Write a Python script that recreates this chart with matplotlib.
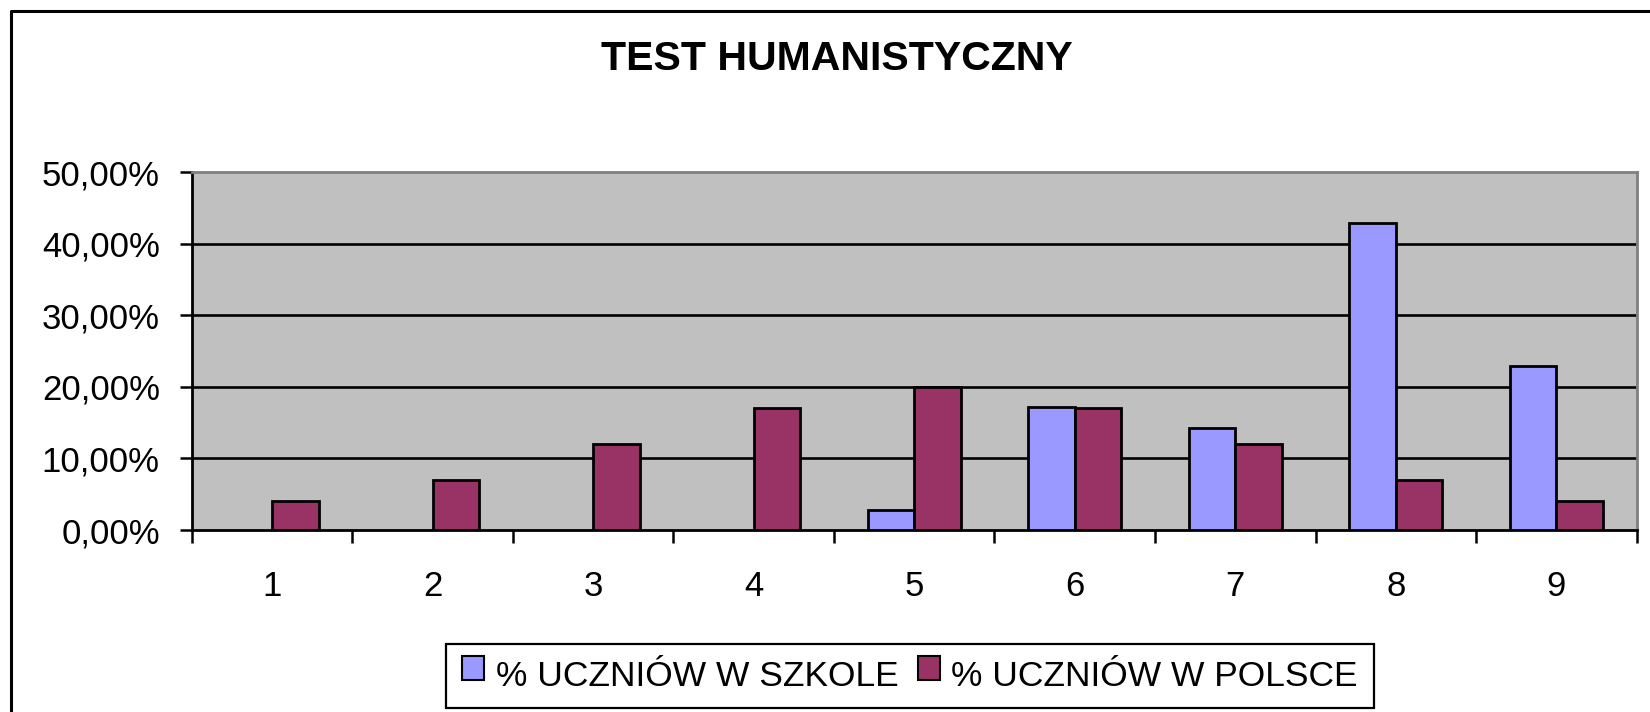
import numpy as np
import matplotlib.pyplot as plt
from matplotlib.lines import Line2D
from matplotlib.ticker import FuncFormatter

# data (fractions)
categories = ['1', '2', '3', '4', '5', '6', '7', '8', '9']
szkola = [0.0, 0.0, 0.0, 0.0, 0.0286, 0.1714, 0.1429, 0.4286, 0.2286]
polska = [0.04, 0.07, 0.12, 0.17, 0.20, 0.17, 0.12, 0.07, 0.04]
series_names = ['% UCZNIÓW W SZKOLE', '% UCZNIÓW W POLSCE']
title = 'TEST HUMANISTYCZNY'

plt.rcParams['font.family'] = ['Liberation Sans', 'DejaVu Sans']

W, H = 1650, 712
fig = plt.figure(figsize=(W / 100, H / 100), dpi=100)
ax = fig.add_axes([191.7 / W, 1 - 530 / H, (1636.7 - 191.7) / W, 358 / H])
ax.set_facecolor('#C0C0C0')

x = np.arange(len(categories))
bw = 0.29
# no outline on empty bars
lw_s = [2.0 if v > 0 else 0 for v in szkola]
lw_p = [2.0 if v > 0 else 0 for v in polska]
ax.bar(x - bw / 2, szkola, bw, color='#9999FF', edgecolor='black', linewidth=lw_s,
       zorder=3, label=series_names[0])
ax.bar(x + bw / 2, polska, bw, color='#993366', edgecolor='black', linewidth=lw_p,
       zorder=3, label=series_names[1])

ax.set_xlim(-0.5, len(categories) - 0.5)
ax.set_ylim(0, 0.5)

# gridlines
for yv in [0.1, 0.2, 0.3, 0.4]:
    ax.axhline(yv, color='black', linewidth=1.9, zorder=1)

ax.set_yticks(np.arange(0, 0.51, 0.1))
ax.yaxis.set_major_formatter(FuncFormatter(lambda v, p: f'{v * 100:.2f}%'.replace('.', ',')))
ax.tick_params(axis='y', length=9, width=1.8, pad=14, labelsize=25, direction='out')

# x: ticks between categories, labels at centres
ax.set_xticks(np.arange(-0.5, len(categories), 1.0))
ax.set_xticklabels([])
ax.set_xticks(x, minor=True)
ax.set_xticklabels(categories, minor=True)
ax.tick_params(axis='x', which='major', length=9, width=1.8, direction='out')
ax.tick_params(axis='x', which='minor', length=0, pad=29, labelsize=25)

for s in ['left', 'bottom']:
    ax.spines[s].set_linewidth(2.0)
    ax.spines[s].set_color('black')
for s in ['top', 'right']:
    ax.spines[s].set_linewidth(2.0)
    ax.spines[s].set_color('#808080')

fig.text(837 / W, 1 - 70 / H, title, ha='center', va='baseline',
         fontsize=29.5, fontweight='bold')

leg = fig.legend(loc='center', bbox_to_anchor=(910 / W, 1 - 676 / H), ncol=2,
                 fontsize=25.5, frameon=True, fancybox=False, framealpha=1,
                 edgecolor='black', handlelength=0.62, handleheight=0.5,
                 handletextpad=0.32, columnspacing=0.55, borderpad=0.45)
leg.get_frame().set_linewidth(1.6)
for h in leg.legend_handles:
    h.set_linewidth(1.5)
    h.set_height(h.get_width() * 1.1)
    h.set_y(h.get_y() + 2)

# outer chart border (only left and top visible)
fig.add_artist(Line2D([10.5 / W, 10.5 / W, 1.0], [0.0, 1 - 10.5 / H, 1 - 10.5 / H],
                      transform=fig.transFigure, color='black', linewidth=2.2))

fig.savefig('out.png', dpi=100)
